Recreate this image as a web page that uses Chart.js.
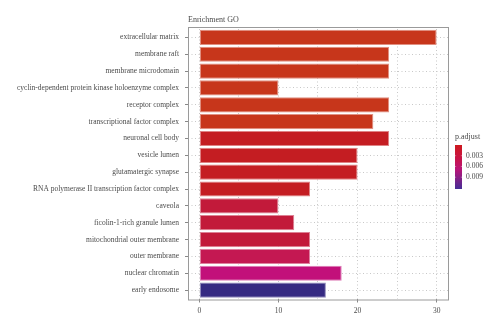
<!DOCTYPE html>
<html>
<head>
<meta charset="utf-8">
<script src="https://cdn.jsdelivr.net/npm/chart.js@4/dist/chart.umd.min.js"></script>
<style>
  html, body { margin: 0; padding: 0; background: #fff; }
  #wrap { width: 500px; height: 331px; }
</style>
</head>
<body>
<div id="wrap"><canvas id="c" width="500" height="331"></canvas></div>
<script>
// ---- data ----
const categories = [
  "extracellular matrix",
  "membrane raft",
  "membrane microdomain",
  "cyclin-dependent protein kinase holoenzyme complex",
  "receptor complex",
  "transcriptional factor complex",
  "neuronal cell body",
  "vesicle lumen",
  "glutamatergic synapse",
  "RNA polymerase II transcription factor complex",
  "caveola",
  "ficolin-1-rich granule lumen",
  "mitochondrial outer membrane",
  "outer membrane",
  "nuclear chromatin",
  "early endosome"
];
const counts = [30, 24, 24, 10, 24, 22, 24, 20, 20, 14, 10, 12, 14, 14, 18, 16];
const pAdjust = [0.00025, 0.00025, 0.00025, 0.00025, 0.00025, 0.00025,
                 0.0018, 0.0018, 0.0018, 0.0018,
                 0.0037, 0.0037, 0.0037, 0.0049, 0.0068, 0.0123];
const xTicks = [0, 10, 20, 30];
const legendTicks = [0.003, 0.006, 0.009];
const pMin = 0.0, pMax = 0.0123;

// ---- colour scale (style) ----
const stops = [
  [0.00, [199, 58, 26]],
  [0.15, [196, 28, 34]],
  [0.30, [194, 26, 58]],
  [0.40, [196, 24, 82]],
  [0.55, [195, 16, 122]],
  [1.00, [53, 42, 130]]
];
const legendStops = [
  [0.00, [205, 25, 30]],
  [0.30, [200, 20, 70]],
  [0.55, [185, 20, 120]],
  [1.00, [70, 45, 150]]
];
function interp(st, t) {
  t = Math.max(0, Math.min(1, t));
  for (let i = 1; i < st.length; i++) {
    if (t <= st[i][0]) {
      const [t0, c0] = st[i - 1], [t1, c1] = st[i];
      const f = (t - t0) / (t1 - t0);
      return c0.map((v, k) => Math.round(v + (c1[k] - v) * f));
    }
  }
  return st[st.length - 1][1];
}
const colorAt = t => interp(stops, t);
const tOf = p => (p - pMin) / (pMax - pMin);
const rgb = c => `rgb(${c[0]},${c[1]},${c[2]})`;
const fills = pAdjust.map(p => rgb(colorAt(tOf(p))));
const edges = pAdjust.map(p => {
  const c = colorAt(tOf(p));
  return rgb(c.map(v => Math.round(v + (255 - v) * 0.45)));
});

const FONT = "'Liberation Serif', 'DejaVu Serif', serif";
const TXT = '#4a4a4a';

const boxPlugin = {
  id: 'boxPlugin',
  afterDraw(chart) {
    const ctx = chart.ctx;
    ctx.save();
    // plot frame
    ctx.strokeStyle = '#9a9a9a';
    ctx.lineWidth = 1;
    ctx.strokeRect(188.5, 27.5, 260, 272.5);
    // title
    ctx.fillStyle = TXT;
    ctx.font = "8px " + FONT;
    ctx.textBaseline = 'alphabetic';
    ctx.textAlign = 'left';
    ctx.fillText('Enrichment GO', 188, 22);
    // colour bar legend
    const lx = 455, ly0 = 145, ly1 = 189, lw = 7;
    ctx.fillText('p.adjust', 455, 139);
    const g = ctx.createLinearGradient(0, ly0, 0, ly1);
    for (let i = 0; i <= 20; i++) g.addColorStop(i / 20, rgb(interp(legendStops, i / 20)));
    ctx.fillStyle = g;
    ctx.fillRect(lx, ly0, lw, ly1 - ly0);
    ctx.fillStyle = TXT;
    ctx.textBaseline = 'middle';
    ctx.font = "7.5px " + FONT;
    ctx.strokeStyle = 'rgba(255,255,255,0.6)';
    ctx.lineWidth = 0.6;
    legendTicks.forEach(v => {
      const y = ly0 + (ly1 - ly0) * tOf(v);
      ctx.beginPath();
      ctx.moveTo(lx, y); ctx.lineTo(lx + 1.2, y);
      ctx.moveTo(lx + lw - 1.2, y); ctx.lineTo(lx + lw, y);
      ctx.stroke();
      ctx.fillText(v.toFixed(3), 466, y);
    });
    ctx.restore();
  }
};

new Chart(document.getElementById('c'), {
  type: 'bar',
  data: {
    labels: categories,
    datasets: [{
      data: counts,
      backgroundColor: fills,
      borderColor: edges,
      borderWidth: 1,
      borderSkipped: false,
      categoryPercentage: 0.9,
      barPercentage: 1.0
    }]
  },
  options: {
    indexAxis: 'y',
    responsive: false,
    animation: false,
    layout: { padding: { top: 29, right: 51.5, bottom: 0, left: 0 } },
    plugins: { legend: { display: false }, tooltip: { enabled: false }, title: { display: false } },
    scales: {
      x: {
        type: 'linear',
        min: -1.43,
        max: 31.5,
        afterBuildTicks: s => { s.ticks = [0, 5, 10, 15, 20, 25, 30].map(v => ({ value: v })); },
        afterFit: s => { s.height = 32.5; },
        border: { display: false, dash: [1, 2.5] },
        grid: {
          color: '#c8c8c8',
          lineWidth: 1,
          drawTicks: true,
          tickLength: 4,
          tickColor: ctx => (xTicks.includes(ctx.tick.value) ? '#888' : 'rgba(0,0,0,0)'),
          tickBorderDash: [20, 0]
        },
        ticks: {
          color: TXT,
          font: { family: FONT, size: 7.5 },
          padding: 4,
          maxRotation: 0,
          autoSkip: false,
          callback: v => (xTicks.includes(v) ? String(v) : '')
        }
      },
      y: {
        afterFit: s => { s.width = 188; },
        border: { display: false, dash: [1, 2.5] },
        grid: {
          offset: false,
          color: '#c8c8c8',
          drawTicks: true,
          tickLength: 3,
          tickColor: '#888',
          tickBorderDash: [20, 0]
        },
        ticks: {
          color: TXT,
          font: { family: FONT, size: 7.5 },
          padding: 6,
          autoSkip: false
        }
      }
    }
  },
  plugins: [boxPlugin]
});
</script>
</body>
</html>
